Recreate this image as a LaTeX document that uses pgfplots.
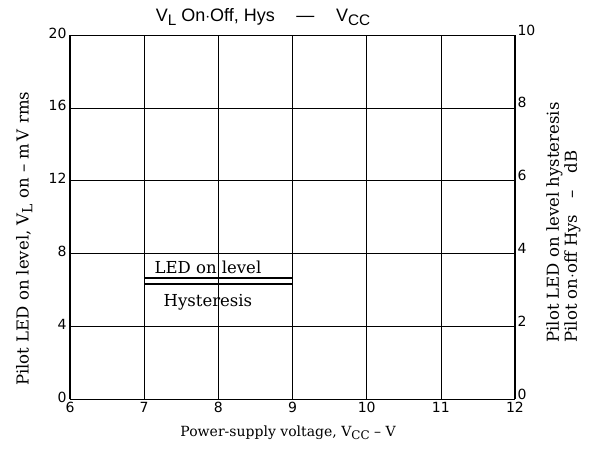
\documentclass[border=0pt]{standalone}
\usepackage{graphicx}
\usepackage{pgfplots}
\pgfplotsset{compat=1.18}
\usepackage{fontspec}
\setmainfont{DejaVu Serif}
\setsansfont{Liberation Sans}
\newfontfamily\tickfont{DejaVu Sans}
\newcommand{\sub}[1]{\raisebox{-0.45ex}{\scalebox{0.85}{#1}}}
\begin{document}
\begin{tikzpicture}[x=1pt,y=1pt]
\begin{axis}[
  at={(0,0)}, anchor=south west,
  scale only axis, width=445pt, height=364pt,
  xmin=6, xmax=12, ymin=0, ymax=20,
  xtick={6,...,12}, ytick={0,4,...,20},
  grid=major, major grid style={black, line width=0.6pt},
  axis line style={line width=1pt},
  major tick length=0pt,
  tick label style={font=\tickfont\fontsize{14}{16}\selectfont},
  yticklabel style={yshift=2pt},
  /pgf/number format/assume math mode=true,
  xlabel={Power-supply voltage, V\sub{CC} -- V},
  ylabel={Pilot LED on level, V\sub{L} on -- m\,V rms},
  xlabel style={font=\fontsize{14}{16}\selectfont, at={(axis description cs:0.49,-0.064)}, anchor=north},
  ylabel style={font=\fontsize{16.5}{18}\selectfont, at={(axis description cs:-0.103,0.44)}, anchor=center},
  axis y line*=left,
  axis x line*=box,
]
\addplot[black, line width=1.8pt] coordinates {(7,6.63) (9,6.63)};
\addplot[black, line width=1.8pt] coordinates {(7,6.31) (9,6.31)};
\node[font=\fontsize{16.5}{18}\selectfont] at (axis cs:7.86,7.25) {LED on level};
\node[font=\fontsize{16.5}{18}\selectfont] at (axis cs:7.86,5.33) {Hysteresis};
\end{axis}
\begin{axis}[
  at={(0,0)}, anchor=south west,
  scale only axis, width=445pt, height=364pt,
  xmin=6, xmax=12, ymin=0, ymax=10,
  axis x line=none,
  axis y line*=right,
  ytick={0,2,...,10},
  axis line style={line width=1pt},
  major tick length=0pt,
  tick label style={font=\tickfont\fontsize{14}{16}\selectfont},
  yticklabel style={yshift=5pt, xshift=-1pt},
  /pgf/number format/assume math mode=true,
  ylabel={\begin{tabular}{@{}l@{}}Pilot LED on level hysteresis\\[0pt]Pilot on$\cdot$off Hys\quad --\quad dB\end{tabular}},
  ylabel style={font=\fontsize{16.5}{18}\selectfont, at={(axis description cs:1.111,0.485)}, anchor=center, rotate=0},
]
\end{axis}
\node[font=\sffamily\fontsize{18}{20}\selectfont] at (193,382) {V\sub{L} On$\cdot$Off, Hys\hspace{1.2em}\textemdash\hspace{1.2em}V\sub{CC}};
\pgfresetboundingbox
\path[use as bounding box] (-70,-52) rectangle (520,399);
\end{tikzpicture}
\end{document}
